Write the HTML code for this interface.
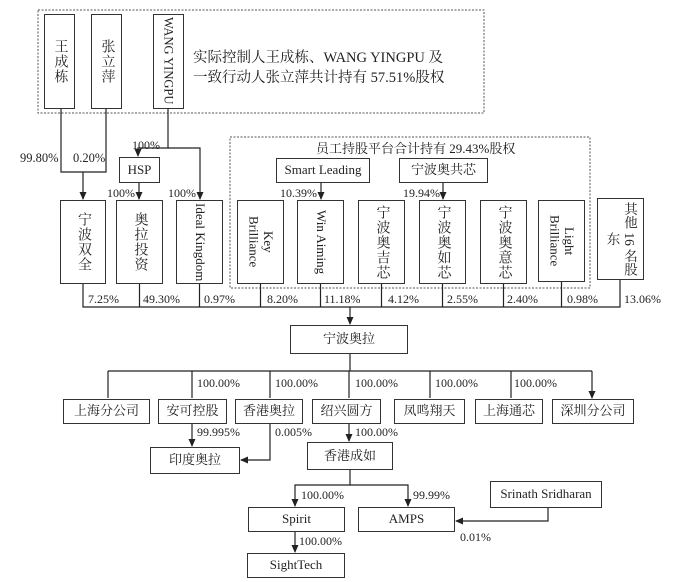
<!DOCTYPE html>
<html><head><meta charset="utf-8"><style>
body{margin:0;width:700px;height:582px;background:#fff;position:relative;overflow:hidden;font-family:"Liberation Serif","Noto Serif CJK SC",serif;color:#222}
.b{position:absolute;border:1.3px solid #333;box-sizing:border-box;display:flex;align-items:center;justify-content:center;font-size:13px;background:#fff;text-align:center;line-height:1.15}
.v{writing-mode:vertical-rl;font-size:14px;letter-spacing:1px}
.l{letter-spacing:0;white-space:nowrap;font-size:13px}
.t{position:absolute;font-size:12px;white-space:nowrap;line-height:14px}
svg{position:absolute;left:0;top:0}
</style></head><body>
<svg width="700" height="582">
<defs><marker id="a" markerWidth="8" markerHeight="8" refX="7" refY="4" orient="auto" markerUnits="userSpaceOnUse"><path d="M0,0.5 L8,4 L0,7.5z" fill="#222"/></marker></defs>
<g fill="none" stroke="#555" stroke-width="1" stroke-dasharray="2,1.5">
<rect x="38" y="10" width="446" height="103"/>
<rect x="230" y="137" width="360" height="151"/>
</g>
<g fill="none" stroke="#222" stroke-width="1.2">
<path d="M61 109V172H106V109"/><path d="M83 172V199" marker-end="url(#a)"/>
<path d="M168 109V148H138V156" marker-end="url(#a)"/><path d="M168 148H200V199" marker-end="url(#a)"/>
<path d="M139 183V199" marker-end="url(#a)"/>
<path d="M321 183V199" marker-end="url(#a)"/><path d="M443 183V199" marker-end="url(#a)"/>
<path d="M83 284V307H620V280"/>
<path d="M139.5 284V307M199.5 284V307M260.5 284V307M320.5 284V307M381.5 284V307M442.5 284V307M503.5 284V307M561.5 282V307"/>
<path d="M350 307V324" marker-end="url(#a)"/>
<path d="M350 354V371"/>
<path d="M108 371H592"/>
<path d="M108 371V398M192 371V398M270 371V398M349 371V398M430 371V398M511 371V398M592 371V398" marker-end="url(#a)"/>
<path d="M192 424V446" marker-end="url(#a)"/>
<path d="M270 424V460H241" marker-end="url(#a)"/>
<path d="M349 424V441" marker-end="url(#a)"/>
<path d="M350 470V485H295V506" marker-end="url(#a)"/><path d="M350 485H408V506" marker-end="url(#a)"/>
<path d="M295 532V552" marker-end="url(#a)"/>
<path d="M548 508V521H456" marker-end="url(#a)"/>
</g>
</svg>
<div class="b v" style="left:44px;top:14px;width:31px;height:95px">王成栋</div>
<div class="b v" style="left:91px;top:14px;width:31px;height:95px">张立萍</div>
<div class="b v l" style="left:153px;top:14px;width:31px;height:95px;justify-content:flex-start;padding-top:2px;font-size:12.5px">WANG YINGPU</div>
<div class="t" style="left:193px;top:48px;font-size:14.5px;line-height:20px">实际控制人王成栋、WANG YINGPU 及<br>一致行动人张立萍共计持有 57.51%股权</div>
<div class="t" style="left:20px;top:151px;font-size:12.5px">99.80%</div>
<div class="t" style="left:73px;top:151px;font-size:12.5px">0.20%</div>
<div class="t" style="left:132px;top:138px">100%</div>
<div class="b" style="left:119px;top:157px;width:41px;height:26px">HSP</div>
<div class="t" style="left:107px;top:186px">100%</div>
<div class="t" style="left:168px;top:186px">100%</div>
<div class="t" style="left:316px;top:142px;font-size:13px">员工持股平台合计持有 29.43%股权</div>
<div class="b" style="left:276px;top:158px;width:94px;height:25px">Smart Leading</div>
<div class="b" style="left:399px;top:158px;width:89px;height:25px">宁波奥共芯</div>
<div class="t" style="left:280px;top:186px">10.39%</div>
<div class="t" style="left:403px;top:186px">19.94%</div>
<div class="b v" style="left:60px;top:200px;width:46px;height:84px">宁波双全</div>
<div class="b v" style="left:116px;top:200px;width:47px;height:84px">奥拉投资</div>
<div class="b v l" style="left:176px;top:200px;width:47px;height:84px">Ideal Kingdom</div>
<div class="b v l" style="left:237px;top:200px;width:47px;height:84px;line-height:1.1">Key<br>Brilliance</div>
<div class="b v l" style="left:297px;top:200px;width:47px;height:84px">Win Aiming</div>
<div class="b v" style="left:358px;top:200px;width:47px;height:84px">宁波奥吉芯</div>
<div class="b v" style="left:419px;top:200px;width:47px;height:84px">宁波奥如芯</div>
<div class="b v" style="left:480px;top:200px;width:47px;height:84px">宁波奥意芯</div>
<div class="b v l" style="left:538px;top:200px;width:47px;height:82px;line-height:1.1">Light<br>Brilliance</div>
<div class="b v" style="left:597px;top:198px;width:47px;height:82px;line-height:1.3;letter-spacing:0;white-space:nowrap;font-size:13.5px">其他 16 名股<br>东</div>
<div class="t" style="left:88px;top:292px">7.25%</div>
<div class="t" style="left:143px;top:292px">49.30%</div>
<div class="t" style="left:204px;top:292px">0.97%</div>
<div class="t" style="left:267px;top:292px">8.20%</div>
<div class="t" style="left:324px;top:292px">11.18%</div>
<div class="t" style="left:388px;top:292px">4.12%</div>
<div class="t" style="left:447px;top:292px">2.55%</div>
<div class="t" style="left:507px;top:292px">2.40%</div>
<div class="t" style="left:567px;top:292px">0.98%</div>
<div class="t" style="left:624px;top:292px">13.06%</div>
<div class="b" style="left:290px;top:325px;width:118px;height:29px">宁波奥拉</div>
<div class="t" style="left:197px;top:376px">100.00%</div>
<div class="t" style="left:275px;top:376px">100.00%</div>
<div class="t" style="left:355px;top:376px">100.00%</div>
<div class="t" style="left:435px;top:376px">100.00%</div>
<div class="t" style="left:514px;top:376px">100.00%</div>
<div class="b" style="left:63px;top:399px;width:87px;height:25px">上海分公司</div>
<div class="b" style="left:158px;top:399px;width:69px;height:25px">安可控股</div>
<div class="b" style="left:235px;top:399px;width:68px;height:25px">香港奥拉</div>
<div class="b" style="left:312px;top:399px;width:69px;height:25px">绍兴圆方</div>
<div class="b" style="left:394px;top:399px;width:71px;height:25px">凤鸣翔天</div>
<div class="b" style="left:475px;top:399px;width:68px;height:25px">上海通芯</div>
<div class="b" style="left:552px;top:399px;width:82px;height:25px">深圳分公司</div>
<div class="t" style="left:197px;top:425px">99.995%</div>
<div class="t" style="left:275px;top:425px">0.005%</div>
<div class="t" style="left:355px;top:425px">100.00%</div>
<div class="b" style="left:150px;top:447px;width:90px;height:27px">印度奥拉</div>
<div class="b" style="left:307px;top:442px;width:86px;height:28px">香港成如</div>
<div class="t" style="left:301px;top:488px">100.00%</div>
<div class="t" style="left:413px;top:488px">99.99%</div>
<div class="b" style="left:490px;top:481px;width:112px;height:27px">Srinath Sridharan</div>
<div class="b" style="left:248px;top:507px;width:97px;height:25px">Spirit</div>
<div class="b" style="left:358px;top:507px;width:97px;height:25px">AMPS</div>
<div class="t" style="left:460px;top:530px">0.01%</div>
<div class="t" style="left:299px;top:534px">100.00%</div>
<div class="b" style="left:247px;top:553px;width:98px;height:25px">SightTech</div>
</body></html>
